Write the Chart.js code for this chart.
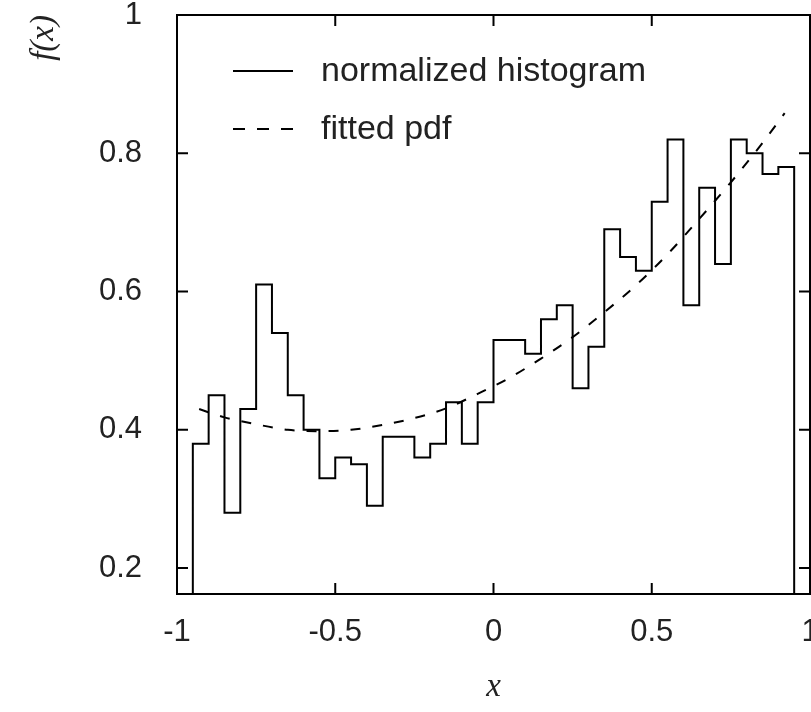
<!DOCTYPE html>
<html>
<head>
<meta charset="utf-8">
<script src="https://cdn.jsdelivr.net/npm/chart.js@4.4.0/dist/chart.umd.min.js"></script>
<style>
  html, body { margin: 0; padding: 0; background: #fff; overflow: hidden; width: 811px; height: 712px; }
  #wrap { position: relative; width: 850px; height: 712px; }
</style>
</head>
<body>
<div id="wrap"><canvas id="c"></canvas></div>
<script>
// ---- data ----
const binEdges = [-0.95,-0.90,-0.85,-0.80,-0.75,-0.70,-0.65,-0.60,-0.55,-0.50,-0.45,-0.40,-0.35,-0.30,-0.25,-0.20,-0.15,-0.10,-0.05,0.00,
                  0.05,0.10,0.15,0.20,0.25,0.30,0.35,0.40,0.45,0.50,0.55,0.60,0.65,0.70,0.75,0.80,0.85,0.90,0.95];
const histValues = [0.38,0.45,0.28,0.43,0.61,0.54,0.45,0.40,0.33,0.36,0.35,0.29,0.39,0.39,0.36,0.38,0.44,0.38,0.44,
                    0.53,0.53,0.51,0.56,0.58,0.46,0.52,0.69,0.65,0.63,0.73,0.82,0.58,0.75,0.64,0.82,0.80,0.77,0.78];
const fitX = [-0.93,-0.85,-0.75,-0.65,-0.55,-0.45,-0.35,-0.25,-0.15,-0.05,0.05,0.15,0.25,0.35,0.45,0.55,0.65,0.75,0.85,0.92];
const fitY = [0.430,0.418,0.408,0.400,0.398,0.400,0.407,0.417,0.431,0.452,0.475,0.503,0.534,0.570,0.609,0.654,0.705,0.758,0.815,0.858];
const xTickValues = [-1,-0.5,0,0.5,1];
const yTickValues = [0.2,0.4,0.6,0.8,1];
const seriesLabels = ['normalized histogram','fitted pdf'];
const axisTitles = { x: 'x', y: 'f(x)' };
const xRange = [-1, 1];
const yRange = [0.1625, 1];
const histBaseline = 0;

// step outline of the histogram: each bin's height runs from its left edge to the next edge
const histPoints = [{ x: binEdges[0], y: histBaseline }];
histValues.forEach((v, i) => histPoints.push({ x: binEdges[i], y: v }));
histPoints.push({ x: binEdges[binEdges.length - 1], y: histValues[histValues.length - 1] });
histPoints.push({ x: binEdges[binEdges.length - 1], y: histBaseline });
const fitPoints = fitX.map((x, i) => ({ x, y: fitY[i] }));

const tickFont = { family: "'Liberation Sans', Arial, sans-serif", size: 31 };
const titleFont = { family: "'Liberation Serif', 'DejaVu Serif', serif", size: 33, style: 'italic' };

const framePlugin = {
  id: 'frame',
  afterDatasetsDraw(chart, args, o) {
    const { ctx, chartArea: a, scales: { x, y } } = chart;
    ctx.save();
    ctx.strokeStyle = o.color;
    ctx.lineWidth = o.width;
    ctx.lineCap = 'butt';
    ctx.beginPath();
    x.ticks.forEach(t => {
      const px = x.getPixelForValue(t.value);
      ctx.moveTo(px, a.bottom); ctx.lineTo(px, a.bottom - o.len);
      ctx.moveTo(px, a.top); ctx.lineTo(px, a.top + o.len);
    });
    y.ticks.forEach(t => {
      const py = y.getPixelForValue(t.value);
      ctx.moveTo(a.left, py); ctx.lineTo(a.left + o.len, py);
      ctx.moveTo(a.right, py); ctx.lineTo(a.right - o.len, py);
    });
    ctx.stroke();
    ctx.strokeRect(a.left, a.top, a.right - a.left, a.bottom - a.top);

    // legend inside the plot
    ctx.font = o.legendFont;
    ctx.fillStyle = o.textColor;
    ctx.textBaseline = 'middle';
    ctx.textAlign = 'left';
    chart.data.datasets.forEach((ds, i) => {
      const ly = o.legendY[i];
      ctx.beginPath();
      ctx.setLineDash(o.legendDash[i]);
      ctx.strokeStyle = ds.borderColor;
      ctx.lineWidth = ds.borderWidth;
      ctx.moveTo(o.sampleX[0], ly); ctx.lineTo(o.sampleX[1], ly);
      ctx.stroke();
      ctx.setLineDash([]);
      ctx.fillText(ds.label, o.textX, ly + 1);
    });
    ctx.restore();
  }
};

new Chart(document.getElementById('c'), {
  type: 'line',
  data: {
    datasets: [
      { label: seriesLabels[0], data: histPoints, stepped: 'before', borderColor: '#000', borderWidth: 2,
        pointRadius: 0, fill: false },
      { label: seriesLabels[1], data: fitPoints, borderColor: '#000', borderWidth: 2, borderDash: [10, 12],
        tension: 0.4, cubicInterpolationMode: 'monotone', pointRadius: 0, fill: false }
    ]
  },
  options: {
    responsive: true,
    maintainAspectRatio: false,
    animation: false,
    events: [],
    layout: { autoPadding: false, padding: { top: 15, right: 40, left: 0, bottom: 0 } },
    plugins: {
      legend: { display: false },
      tooltip: { enabled: false },
      frame: {
        color: '#000', width: 2, len: 11,
        legendY: [71, 129], legendDash: [[], [12, 12]], sampleX: [233, 293], textX: 321,
        legendFont: "34px 'Liberation Sans', Arial, sans-serif", textColor: '#222'
      }
    },
    scales: {
      x: {
        type: 'linear', min: xRange[0], max: xRange[1],
        grid: { display: false, drawTicks: false },
        border: { display: false },
        ticks: { font: tickFont, color: '#222', padding: 20, maxRotation: 0, autoSkip: false,
                 callback: v => String(v) },
        afterBuildTicks: s => { s.ticks = xTickValues.map(v => ({ value: v })); },
        afterFit: s => { s.height = 118; s.paddingLeft = 0; s.paddingRight = 0; },
        title: { display: true, text: axisTitles.x, font: titleFont, color: '#222', padding: { top: 0, bottom: 5 } }
      },
      y: {
        type: 'linear', min: yRange[0], max: yRange[1],
        grid: { display: false, drawTicks: false },
        border: { display: false },
        ticks: { font: tickFont, color: '#222', padding: 35, autoSkip: false, callback: v => String(v) },
        afterBuildTicks: s => { s.ticks = yTickValues.map(v => ({ value: v })); },
        afterFit: s => { s.width = 177; s.paddingTop = 0; s.paddingBottom = 0; },
        title: { display: true, text: axisTitles.y, font: titleFont, color: '#222', align: 'end',
                 padding: { top: 25, bottom: 0 } }
      }
    }
  },
  plugins: [framePlugin]
});
</script>
</body>
</html>
